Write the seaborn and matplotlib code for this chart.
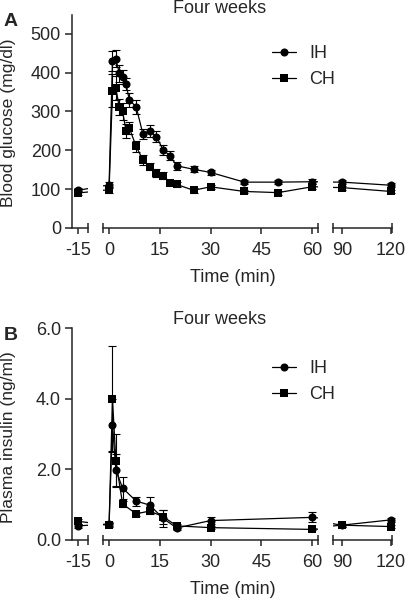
import numpy as np
import pandas as pd
import matplotlib
matplotlib.use("Agg")
import matplotlib.pyplot as plt
import seaborn as sns

# ---------------- data ----------------
time_glu = [-15, 0, 1, 2, 3, 4, 5, 6, 8, 10, 12, 14, 16, 18, 20, 25, 30, 40, 50, 60, 90, 120]
glu_ih = [97, 110, 430, 436, 398, 389, 370, 329, 312, 242, 250, 235, 201, 186, 160, 151, 143, 118, 118, 119, 118, 110]
glu_ih_sem = [5, 8, 25, 22, 22, 18, 15, 18, 18, 12, 15, 15, 12, 12, 10, 8, 6, 5, 5, 6, 5, 5]
glu_ch = [90, 98, 353, 360, 311, 300, 250, 257, 210, 175, 158, 141, 135, 117, 112, 97, 106, 94, 91, 106, 104, 94]
glu_ch_sem = [5, 8, 42, 30, 20, 22, 18, 15, 15, 12, 10, 10, 8, 6, 6, 6, 5, 5, 5, 6, 5, 5]

time_ins = [-15, 0, 1, 2, 4, 8, 12, 16, 20, 30, 60, 90, 120]
ins_ih = [0.40, 0.45, 3.25, 1.98, 1.47, 1.10, 0.99, 0.61, 0.34, 0.55, 0.64, 0.42, 0.57]
ins_ih_sem = [0.05, 0.05, 0.75, 0.45, 0.32, 0.13, 0.23, 0.25, 0.05, 0.10, 0.14, 0.04, 0.05]
ins_ch = [0.53, 0.42, 4.00, 2.24, 1.02, 0.74, 0.82, 0.66, 0.40, 0.35, 0.30, 0.42, 0.38]
ins_ch_sem = [0.07, 0.05, 1.48, 0.75, 0.08, 0.05, 0.07, 0.20, 0.05, 0.04, 0.03, 0.04, 0.04]

groups = ["IH", "CH"]
x_ticks_seg = [[-15], [0, 15, 30, 45, 60], [90, 120]]

# ---------------- style ----------------
sns.set_style("ticks")
plt.rcParams["font.family"] = ["Liberation Sans", "DejaVu Sans"]
FS = 13
plt.rcParams["font.size"] = FS

W, H = 405, 600
fig = plt.figure(figsize=(W / 100, H / 100), dpi=100)

seg_px = [(72, 88), (103, 318), (333, 392)]
seg_lim = [(-18, -10), (-1.8, 61.8), (84.5, 120.6)]
seg_view = [(-18, -10), (-1.8, 61.8), (84.5, 122.5)]


def make_df(t, a, b):
    return pd.DataFrame({
        "time": list(t) + list(t),
        "value": list(a) + list(b),
        "group": ["IH"] * len(t) + ["CH"] * len(t),
    })


def panel(top_px, bot_px, t, a, a_sem, b, b_sem, ylim, yticks, yfmt, ylabel, letter,
          ylab_y, leg_top, title_base):
    df = make_df(t, a, b)
    axes = []
    for i, ((x0, x1), lim, view) in enumerate(zip(seg_px, seg_lim, seg_view)):
        vw = (view[1] - view[0]) / (lim[1] - lim[0]) * (x1 - x0)
        ax = fig.add_axes([x0 / W, 1 - bot_px / H, vw / W, (bot_px - top_px) / H])
        ax.patch.set_alpha(0)
        sns.lineplot(data=df, x="time", y="value", hue="group", style="group",
                     hue_order=groups, style_order=groups,
                     palette={"IH": "black", "CH": "black"},
                     markers={"IH": "o", "CH": "s"}, dashes=False,
                     markersize=5.8, markeredgewidth=0, linewidth=0.9,
                     legend=(i == 1), ax=ax)
        ax.errorbar(t, a, yerr=a_sem, fmt="none", ecolor="black", elinewidth=0.8,
                    capsize=3, capthick=0.8)
        ax.errorbar(t, b, yerr=b_sem, fmt="none", ecolor="black", elinewidth=0.8,
                    capsize=3, capthick=0.8)
        ax.set_xlim(*view)
        ax.set_ylim(*ylim)
        for s in ["top", "right"]:
            ax.spines[s].set_visible(False)
        ax.spines["bottom"].set_bounds(*lim)
        ax.spines["bottom"].set_linewidth(1.1)
        ax.spines["left"].set_linewidth(1.1)
        ax.set_xticks(x_ticks_seg[i])
        ax.set_xticklabels([str(v) for v in x_ticks_seg[i]])
        ax.set_xticks([lim[0], lim[1]] if i > 0 else [lim[1]], minor=True)
        ax.tick_params(axis="x", which="major", direction="out", length=4, width=1.1,
                       labelsize=FS, pad=6)
        ax.tick_params(axis="x", which="minor", direction="inout", length=7, width=1.1)
        ax.set_xlabel("")
        ax.set_ylabel("")
        if i == 0:
            ax.set_yticks(yticks)
            ax.set_yticklabels([yfmt.format(v) for v in yticks])
            ax.tick_params(axis="y", direction="out", length=5, width=1.1, labelsize=FS, pad=3)
        else:
            ax.spines["left"].set_visible(False)
            ax.set_yticks([])
        if i == 1:
            h, l = ax.get_legend_handles_labels()
            ax.legend(h, l, loc="upper left", bbox_to_anchor=(272 / W, 1 - leg_top / H),
                      bbox_transform=fig.transFigure,
                      frameon=False, fontsize=FS, handlelength=1.35, handletextpad=0.7,
                      labelspacing=0.5, borderaxespad=0, borderpad=0)
        axes.append(ax)
    fig.text(220 / W, 1 - title_base / H, "Four weeks", ha="center", va="baseline", fontsize=FS)
    fig.text(11 / W, 1 - (top_px + 7) / H, letter, ha="center", va="center",
             fontsize=14, fontweight="bold")
    fig.text(233 / W, 1 - (bot_px + 49) / H, "Time (min)", ha="center", va="center", fontsize=FS)
    fig.text(9 / W, 1 - ylab_y / H, ylabel, ha="center", va="center", rotation=90,
             fontsize=12.6)
    return axes


panel(15, 228, time_glu, glu_ih, glu_ih_sem, glu_ch, glu_ch_sem,
      (0, 548), [0, 100, 200, 300, 400, 500], "{:d}", "Blood glucose (mg/dl)", "A", 123, 45, 13)
panel(328, 540, time_ins, ins_ih, ins_ih_sem, ins_ch, ins_ch_sem,
      (0, 6.0), [0.0, 2.0, 4.0, 6.0], "{:.1f}", "Plasma insulin (ng/ml)", "B", 437, 360, 324)

fig.savefig("out.png", dpi=100)
